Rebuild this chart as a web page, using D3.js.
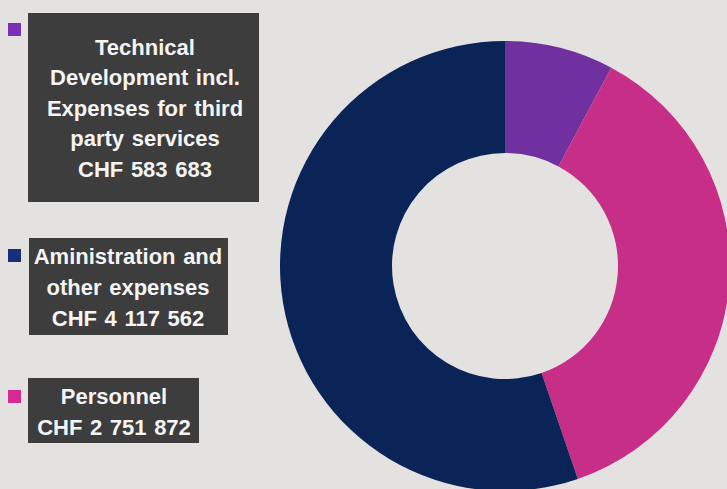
<!DOCTYPE html>
<html>
<head>
<meta charset="utf-8">
<script src="https://cdn.jsdelivr.net/npm/d3@7"></script>
<style>
  body { margin: 0; background: #e4e2e0; }
  svg { display: block; }
  .lbl { font-family: "Liberation Sans", Arial, sans-serif; font-weight: bold; fill: #f4f4f4; }
</style>
</head>
<body>
<script>
// categories in legend order
const categories = ["Technical", "Administration", "Personnel"];
const labelLines = [
  ["Technical", "Development incl.", "Expenses for third", "party services", " CHF 583 683"],
  ["Aministration and", "other expenses", "CHF 4 117 562"],
  ["Personnel", "CHF 2 751 872"]
];
const values = [583683, 4117562, 2751872];
const colors = ["#7030a0", "#0b2457", "#c72e88"];
const markerColors = ["#7a2fb8", "#18307a", "#d42a92"];
// clockwise order from 12 o'clock
const pieOrder = ["Technical", "Personnel", "Administration"];

const W = 727, H = 489;
const svg = d3.select("body").append("svg").attr("width", W).attr("height", H);

const cx = 505, cy = 266, outerR = 225, innerR = 113;

const pieData = pieOrder.map(c => ({ cat: c, value: values[categories.indexOf(c)] }));
const pie = d3.pie().sort(null).value(d => d.value);
const arc = d3.arc().innerRadius(innerR).outerRadius(outerR);
const color = d3.scaleOrdinal().domain(categories).range(colors);

svg.append("g")
  .attr("transform", "translate(" + cx + "," + cy + ")")
  .selectAll("path")
  .data(pie(pieData))
  .enter().append("path")
  .attr("d", arc)
  .attr("fill", d => color(d.data.cat));

// legend boxes
const boxes = [
  { x: 28, y: 13, w: 231, h: 189, mY: 23, cxT: 145, y0: 47, step: 30.5 },
  { x: 29, y: 238, w: 199, h: 97, mY: 249, cxT: 128, y0: 256, step: 31 },
  { x: 28, y: 378, w: 171, h: 65, mY: 390, cxT: 114, y0: 396, step: 31 }
];

const leg = svg.selectAll(".legend")
  .data(categories)
  .enter().append("g")
  .attr("class", "legend");

leg.append("rect")
  .attr("x", 8)
  .attr("y", (d, i) => boxes[i].mY)
  .attr("width", 13)
  .attr("height", 13)
  .attr("fill", (d, i) => markerColors[i]);

leg.append("rect")
  .attr("x", (d, i) => boxes[i].x)
  .attr("y", (d, i) => boxes[i].y)
  .attr("width", (d, i) => boxes[i].w)
  .attr("height", (d, i) => boxes[i].h)
  .attr("fill", "#3d3d3d");

leg.each(function(d, i) {
  const b = boxes[i];
  d3.select(this).selectAll("text")
    .data(labelLines[i])
    .enter().append("text")
    .attr("class", "lbl")
    .attr("x", b.cxT)
    .attr("y", (t, j) => b.y0 + j * b.step)
    .attr("dy", "0.36em")
    .attr("text-anchor", "middle")
    .style("font-size", "22px")
    .style("word-spacing", "1.5px")
    .text(t => t);
});
</script>
</body>
</html>
